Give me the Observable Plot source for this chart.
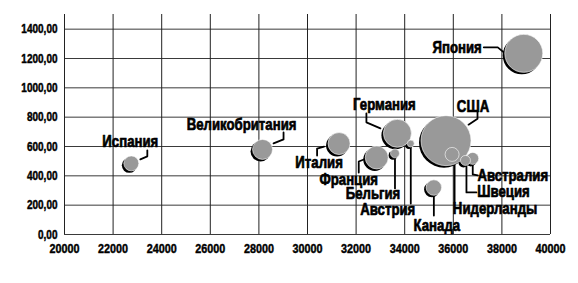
<!DOCTYPE html>
<html>
<head>
<meta charset="utf-8">
<script src="https://cdn.jsdelivr.net/npm/d3@7"></script>
<script src="https://cdn.jsdelivr.net/npm/@observablehq/plot@0.6"></script>
<style>
  html, body { margin: 0; padding: 0; background: #fff; }
  #chart svg { display: block; }
</style>
</head>
<body>
<div id="chart"></div>
<script>
// ---- data ----
const countries = ["Япония", "США", "Германия", "Франция", "Италия", "Великобритания", "Канада", "Испания", "Нидерланды", "Австралия", "Швеция", "Бельгия", "Австрия"];
const xValues   = [38900, 35700, 33700, 32850, 31300, 28150, 35200, 22750, 35950, 36800, 36500, 33600, 34250];
const yValues   = [1235, 640, 690, 525, 620, 580, 320, 485, 546, 519, 505, 553, 620];
const sizeValues = [361, 625, 196, 132, 121, 100, 60, 56, 49, 36, 25, 20, 12];
const xTicks = [20000, 22000, 24000, 26000, 28000, 30000, 32000, 34000, 36000, 38000, 40000];
const yTicks = [0, 200, 400, 600, 800, 1000, 1200, 1400];

// ---- layout (pixel offsets of labels & leader lines relative to bubble centre) ----
const labelLayout = {
  "Япония":         {t: [-42, -6], anchor: "end",   path: [[-40, -6], [-26, -6], [-20, -1]]},
  "США":            {t: [27, -34], anchor: "middle", path: [[31.5, -29], [31.5, -22], [22.5, -16]]},
  "Германия":       {t: [-13, -29], anchor: "middle", path: [[-31, -20], [-31, -11], [-17, -5]]},
  "Франция":        {t: [-28, 22.5], anchor: "middle", path: [[-18, 15], [-18, 4], [-13, 2]]},
  "Италия":         {t: [-20, 19], anchor: "middle", path: [[-22, 12], [-22, 5], [-15, 3]]},
  "Великобритания": {t: [-21, -24.5], anchor: "middle", path: [[21, -17], [21, -10], [11, -6]]},
  "Канада":         {t: [3, 38], anchor: "middle", path: [[0, 7], [0, 28]]},
  "Испания":        {t: [-1, -21.5], anchor: "middle", path: [[16, -13], [16, -7], [9, -4]]},
  "Нидерланды":     {t: [43, 54], anchor: "middle", path: [[2.5, 6], [2.5, 47]]},
  "Австралия":      {t: [40, 17.5], anchor: "middle", path: [[0, 5], [0, 16], [5, 17]]},
  "Швеция":         {t: [38, 31.5], anchor: "middle", path: [[1, 4], [1, 32], [11, 32]]},
  "Бельгия":        {t: [-22, 40.5], anchor: "middle", path: [[0, 4], [0, 35]]},
  "Австрия":        {t: [-23, 66], anchor: "middle", path: [[0, 3], [0, 60]]}
};

const W = 578, H = 283, ML = 64, MR = 28, MT = 14, MB = 49;
const xDomain = [20000, 40000], yDomain = [0, 1500];
const kx = (xDomain[1] - xDomain[0]) / (W - ML - MR);
const ky = (yDomain[1] - yDomain[0]) / (H - MT - MB);

const data = countries.map((name, i) => ({name, x: xValues[i], y: yValues[i], size: sizeValues[i]}))
  .sort((a, b) => b.size - a.size);

const labels = data.map(d => {
  const L = labelLayout[d.name];
  return {name: d.name, anchor: L.anchor, x: d.x + L.t[0] * kx, y: d.y - L.t[1] * ky};
});
const leaders = data.flatMap(d => labelLayout[d.name].path.map(([px, py], j) => ({name: d.name, j, x: d.x + px * kx, y: d.y - py * ky})));

const font = "'Liberation Sans', Arial, sans-serif";
const fmt = v => v.toFixed(2).replace(".", ",");

const chart = Plot.plot({
  width: W, height: H,
  marginLeft: ML, marginRight: MR, marginTop: MT, marginBottom: MB,
  style: {fontFamily: font, background: "#fff", color: "#000"},
  x: {domain: xDomain},
  y: {domain: yDomain},
  r: {type: "sqrt", domain: [0, 625], range: [0, 25]},
  marks: [
    Plot.ruleY(yTicks, {y: d => d, x1: xDomain[0], x2: xDomain[1], stroke: "#3a3a3a", strokeWidth: 1}),
    Plot.ruleX(xTicks, {x: d => d, y1: yDomain[0], y2: yDomain[1], stroke: "#222", strokeWidth: 1}),
    Plot.axisY({ticks: yTicks, tickSize: 0, tickPadding: 7, tickFormat: fmt, fontSize: 12.5, fontWeight: "bold", label: null}),
    Plot.axisX({ticks: xTicks, tickSize: 0, tickPadding: 9, tickFormat: d => String(d), fontSize: 13.5, fontWeight: "bold", label: null}),
    Plot.line(leaders, {x: "x", y: "y", z: "name", stroke: "#000", strokeWidth: 1.8, curve: "linear"}),
    Plot.dot(data, {x: "x", y: "y", r: "size", fill: "#000", dx: -2, dy: 2, sort: null}),
    Plot.dot(data, {x: "x", y: "y", r: "size", fill: "#999", stroke: "#fff", strokeWidth: 0.6, sort: null}),
    ...["middle", "end"].map(a => Plot.text(labels.filter(l => l.anchor === a), {
      x: "x", y: "y", text: "name", textAnchor: a,
      fontSize: 16.5, fontWeight: "bold", fill: "#000"
    }))
  ]
});
document.getElementById("chart").appendChild(chart);

// condense & embolden all text (narrow, heavy poster-style face)
d3.select(chart).selectAll("text").each(function () {
  if (this.querySelector("tspan")) return;
  const w = this.getComputedTextLength();
  if (w > 0) {
    this.setAttribute("textLength", (w * 0.8).toFixed(2));
    this.setAttribute("lengthAdjust", "spacingAndGlyphs");
  }
  const fs = parseFloat(getComputedStyle(this).fontSize);
  this.setAttribute("stroke", "#000");
  this.setAttribute("stroke-width", fs > 14 ? 0.7 : 0.45);
  this.setAttribute("stroke-linejoin", "round");
});
</script>
</body>
</html>
